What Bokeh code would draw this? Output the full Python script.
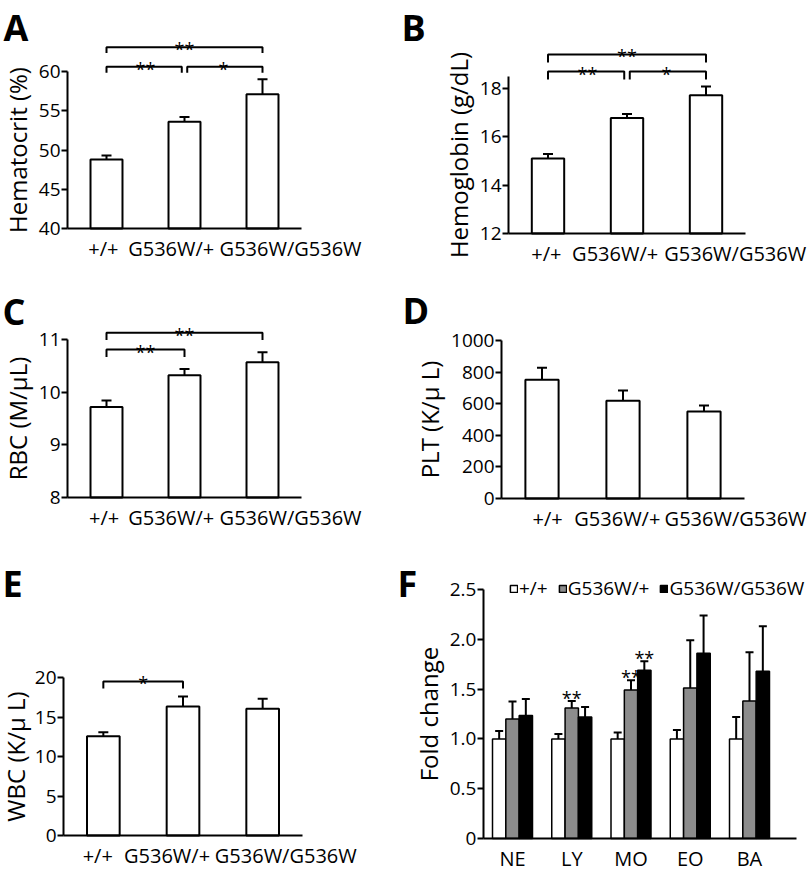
from bokeh.plotting import figure
from bokeh.models import Range1d, FixedTicker, Whisker, TeeHead, ColumnDataSource, Label
from bokeh.layouts import column, row
from bokeh.embed import file_html
from bokeh.resources import INLINE
from bokeh.core.properties import value

# ---------------- data ----------------
genotypes = ["+/+", "G536W/+", "G536W/G536W"]

hct_mean = [48.8, 53.6, 57.1]
hct_err = [0.5, 0.6, 1.9]
hct_ticks = [40, 45, 50, 55, 60]
hct_brackets = [(0, 2, 63.1, "**"), (0, 1, 60.6, "**"), (1, 2, 60.6, "*")]

hgb_mean = [15.1, 16.78, 17.72]
hgb_err = [0.19, 0.17, 0.36]
hgb_ticks = [12, 14, 16, 18]
hgb_brackets = [(0, 2, 19.41, "**"), (0, 1, 18.70, "**"), (1, 2, 18.70, "*")]

rbc_mean = [9.72, 10.32, 10.57]
rbc_err = [0.12, 0.12, 0.19]
rbc_ticks = [8, 9, 10, 11]
rbc_brackets = [(0, 2, 11.13, "**"), (0, 1, 10.81, "**")]

plt_mean = [751, 618, 551]
plt_err = [76, 66, 38]
plt_ticks = [0, 200, 400, 600, 800, 1000]
plt_brackets = []

wbc_mean = [12.57, 16.33, 16.03]
wbc_err = [0.51, 1.27, 1.27]
wbc_ticks = [0, 5, 10, 15, 20]
wbc_brackets = [(0, 1, 19.5, "*")]

cell_types = ["NE", "LY", "MO", "EO", "BA"]
fold_wt = [1.0, 1.0, 1.0, 1.0, 1.0]
fold_wt_err = [0.08, 0.05, 0.065, 0.09, 0.22]
fold_het = [1.20, 1.31, 1.49, 1.51, 1.38]
fold_het_err = [0.175, 0.07, 0.10, 0.48, 0.49]
fold_hom = [1.235, 1.22, 1.69, 1.86, 1.68]
fold_hom_err = [0.165, 0.10, 0.09, 0.38, 0.45]
fold_ticks = [0, 0.5, 1.0, 1.5, 2.0, 2.5]
fold_tick_labels = ["0", "0.5", "1.0", "1.5", "2.0", "2.5"]
fold_stars = [(1, 1, "**"), (2, 1, "**"), (2, 2, "**")]  # (cell type, genotype, label)

FONT = "Open Sans"
GRAY = "#8c8c8c"

# ---------------- layout (pixels on the page) ----------------
COL_X = [0, 396]
COL_W = [396, 416]
ROW_Y = [0, 280, 555]
ROW_H = [280, 275, 315]
LETTER_SIZE = 36
LETTER_SHIFT = 0.475 * LETTER_SIZE  # baseline correction for the panel letters


def val_at(px, a, b):
    (p0, v0), (p1, v1) = a, b
    return v0 + (px - p0) * (v1 - v0) / (p1 - p0)


def panel_fig(col, rw, xa, ya):
    ox, oy, w, h = COL_X[col], ROW_Y[rw], COL_W[col], ROW_H[rw]
    xr = Range1d(val_at(ox, *xa), val_at(ox + w, *xa))
    yr = Range1d(val_at(oy + h, *ya), val_at(oy, *ya))
    p = figure(width=w, height=h, x_range=xr, y_range=yr, output_backend="svg",
               toolbar_location=None, tools="", min_border=0, min_border_left=0,
               min_border_right=0, min_border_top=0, min_border_bottom=0)
    p.outline_line_color = None
    p.xgrid.visible = False
    p.ygrid.visible = False
    p.background_fill_color = "white"
    p.border_fill_color = "white"
    return p, (ox, oy, w, h)


def style_axes(p, xpos, xlabels, xbounds, yticks, ylabels, ybounds, ylabel,
               xfont="20px", xstand=6, ylab_stand=2):
    p.xaxis.fixed_location = ybounds[0]
    p.yaxis.fixed_location = xbounds[0]
    p.xaxis.ticker = FixedTicker(ticks=list(xpos))
    p.xaxis.major_label_overrides = dict(zip(xpos, xlabels))
    p.xaxis.bounds = xbounds
    p.yaxis.ticker = FixedTicker(ticks=list(yticks))
    p.yaxis.major_label_overrides = dict(zip(yticks, ylabels))
    p.yaxis.bounds = ybounds
    for ax in (p.xaxis[0], p.yaxis[0]):
        ax.axis_line_width = 2
        ax.axis_line_color = "black"
        ax.major_label_text_font = FONT
        ax.major_label_text_color = "black"
        ax.minor_tick_line_color = None
    p.xaxis.major_tick_line_color = None
    p.xaxis.major_tick_out = 0
    p.xaxis.major_tick_in = 0
    p.xaxis.major_label_standoff = xstand
    p.xaxis.major_label_text_font_size = xfont
    p.yaxis.major_tick_line_width = 2
    p.yaxis.major_tick_line_color = "black"
    p.yaxis.major_tick_out = 6
    p.yaxis.major_tick_in = 0
    p.yaxis.major_label_standoff = 1
    p.yaxis.major_label_text_font_size = "19px"
    p.yaxis.axis_label = ylabel
    p.yaxis.axis_label_text_font = FONT
    p.yaxis.axis_label_text_font_size = "24px"
    p.yaxis.axis_label_text_font_style = "normal"
    p.yaxis.axis_label_text_color = "black"
    p.yaxis.axis_label_standoff = ylab_stand


def add_letter(p, box, letter, pos):
    ox, oy, w, h = box
    lx, base = pos
    p.add_layout(Label(x=lx - ox, y=(oy + h) - base + LETTER_SHIFT, x_units="screen",
                       y_units="screen", text=letter, text_font=FONT,
                       text_font_size=f"{LETTER_SIZE}px", text_font_style="bold",
                       text_color="black", text_align="left", text_baseline="alphabetic"))


def add_brackets(p, brackets, drop, xs, gap=0.035):
    mx, my, tx, ty, tt = [], [], [], [], []
    for i, j, lvl, lab in brackets:
        x1, x2 = xs[i], xs[j]
        if any(b[1] == i and b[2] == lvl for b in brackets):
            x1 += gap
        if any(b[0] == j and b[2] == lvl for b in brackets):
            x2 -= gap
        mx.append([x1, x1, x2, x2])
        my.append([lvl - drop, lvl, lvl, lvl - drop])
        tx.append((xs[i] + xs[j]) / 2)
        ty.append(lvl)
        tt.append(lab)
    if mx:
        p.multi_line(xs=mx, ys=my, line_color="black", line_width=2)
        p.text(x=tx, y=ty, text=tt, text_font=value(FONT), text_font_size="18px",
               text_align="center", text_baseline="alphabetic", y_offset=2, text_color="black")


def bar_panel(col, rw, xa, ya, letter, letter_pos, ylabel, means, errs, ticks, ytop,
              brackets, drop, label_pos, ylab_stand=2):
    xs = [i + 0.5 for i in range(len(genotypes))]
    p, box = panel_fig(col, rw, xa, ya)
    y0 = ticks[0]
    src = ColumnDataSource(dict(x=xs, top=means, up=[m + e for m, e in zip(means, errs)]))
    p.vbar(x="x", top="top", bottom=y0, width=0.41, fill_color="white",
           line_color="black", line_width=2, source=src)
    p.add_layout(Whisker(source=src, base="x", lower="top", upper="up", dimension="height",
                         line_width=2, line_color="black", lower_head=None, level="overlay",
                         upper_head=TeeHead(size=10, line_width=2, line_color="black")))
    add_brackets(p, brackets, drop, xs)
    style_axes(p, label_pos, genotypes, (0, len(genotypes)), ticks,
               [str(t) for t in ticks], (y0, ytop), ylabel, ylab_stand=ylab_stand)
    add_letter(p, box, letter, letter_pos)
    return p


pA = bar_panel(0, 0, ((67, 0), (301, 3)), ((228, 40), (71, 60)), "A", (3, 44),
               "Hematocrit (%)", hct_mean, hct_err, hct_ticks, 60, hct_brackets, 0.75,
               [0.46, 1.33, 2.86])
pB = bar_panel(1, 0, ((508, 0), (745, 3)), ((233, 12), (88, 18)), "B", (401, 44),
               "Hemoglobin (g/dL)", hgb_mean, hgb_err, hgb_ticks, 18.5, hgb_brackets, 0.33,
               [0.48, 1.35, 2.87])
pC = bar_panel(0, 1, ((67, 0), (301, 3)), ((497, 8), (339, 11)), "C", (2, 328),
               "RBC (M/μL)", rbc_mean, rbc_err, rbc_ticks, 11, rbc_brackets, 0.14,
               [0.47, 1.33, 2.86])
pD = bar_panel(1, 1, ((501, 0), (744, 3)), ((498, 0), (340, 1000)), "D", (402, 327),
               "PLT (K/μ L)", plt_mean, plt_err, plt_ticks, 1000, plt_brackets, 0,
               [0.57, 1.43, 2.89])
pE = bar_panel(0, 2, ((63, 0), (302, 3)), ((835, 0), (677, 20)), "E", (2, 600),
               "WBC (K/μ L)", wbc_mean, wbc_err, wbc_ticks, 20, wbc_brackets, 0.9,
               [0.43, 1.30, 2.79], ylab_stand=0)

# ---------------- panel F ----------------
pF, boxF = panel_fig(1, 2, ((512, 0), (749, 4)), ((838, 0), (589, 2.5)))
series = [("+/+", fold_wt, fold_wt_err, "white"),
          ("G536W/+", fold_het, fold_het_err, GRAY),
          ("G536W/G536W", fold_hom, fold_hom_err, "black")]
bw = 0.225
offsets = [-bw, 0, bw]
gx = list(range(len(cell_types)))
tops_by_series = []
for (name, vals, errs, colr), off in zip(series, offsets):
    xs = [g + off for g in gx]
    up = [v + e for v, e in zip(vals, errs)]
    tops_by_series.append((xs, up))
    src = ColumnDataSource(dict(x=xs, top=vals, up=up))
    pF.vbar(x="x", top="top", bottom=0, width=bw, fill_color=colr, line_color="black",
            line_width=1.5, source=src, legend_label=name)
    pF.add_layout(Whisker(source=src, base="x", lower="top", upper="up", dimension="height",
                          line_width=2, line_color="black", lower_head=None, level="overlay",
                          upper_head=TeeHead(size=8, line_width=2, line_color="black")))
sx = [tops_by_series[s][0][g] for g, s, _ in fold_stars]
sy = [tops_by_series[s][1][g] for g, s, _ in fold_stars]
st = [lab for _, _, lab in fold_stars]
pF.text(x=sx, y=sy, text=st, text_font=value(FONT), text_font_size="18px",
        text_align="center", text_baseline="alphabetic", y_offset=-3, text_color="black")
style_axes(pF, gx, cell_types, (-0.49, 4.79), fold_ticks, fold_tick_labels, (0, 2.5),
           "Fold change", xfont="20px", xstand=6)
add_letter(pF, boxF, "F", (397, 600))

lg = pF.legend[0]
lg.location = (509 - boxF[0], (boxF[1] + boxF[3]) - 601)
lg.orientation = "horizontal"
lg.border_line_color = None
lg.background_fill_alpha = 0
lg.margin = 0
lg.padding = 0
lg.spacing = 10
lg.glyph_width = 9
lg.glyph_height = 9
lg.label_standoff = 1
lg.label_text_font = FONT
lg.label_text_font_size = "19px"
lg.label_text_color = "black"
lg.label_height = 18

layout = column(row(pA, pB), row(pC, pD), row(pE, pF))
open("out.html", "w").write(file_html(layout, INLINE))
